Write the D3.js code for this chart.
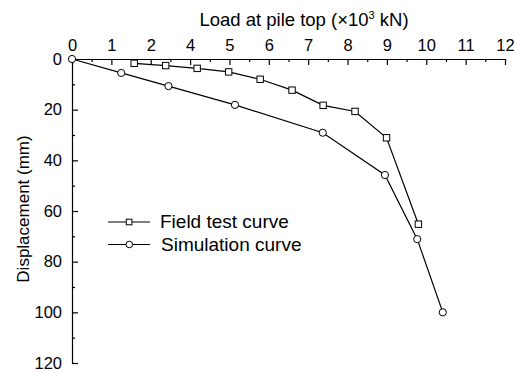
<!DOCTYPE html>
<html>
<head>
<meta charset="utf-8">
<script src="https://cdn.jsdelivr.net/npm/d3@7"></script>
<style>
  body { margin: 0; background: #fff; }
  svg { display: block; font-family: "Liberation Sans", Arial, sans-serif; }
</style>
</head>
<body>
<svg id="chart" width="514" height="372"></svg>
<script>
// load axis is drawn on an even grid of 12 ticks, labels as printed
var xTickLabels = ["0", "1", "2", "4", "5", "6", "7", "8", "9", "10", "11", "12"];
var yTicks = [0, 20, 40, 60, 80, 100, 120];

// values read in axis (tick position) units
var fieldLoad = [1.58, 2.38, 3.18, 3.98, 4.78, 5.59, 6.38, 7.19, 7.99, 8.80];
var fieldDisp = [1.7, 2.6, 3.7, 5.1, 8.0, 12.3, 18.3, 20.7, 31.1, 65.2];

var simLoad = [0, 1.25, 2.45, 4.14, 6.37, 7.95, 8.77, 9.42];
var simDisp = [0, 5.5, 10.7, 18.1, 29.1, 45.8, 71.1, 100];

var svg = d3.select("#chart");
var marginLeft = 72, marginTop = 59, plotW = 433, plotH = 304;

var x = d3.scaleLinear().domain([0, 11]).range([0, plotW]);
var y = d3.scaleLinear().domain([0, 120]).range([0, plotH]);

var g = svg.append("g").attr("transform", "translate(" + marginLeft + "," + marginTop + ")");

// x axis on top, ticks pointing into the plot
var xAxis = d3.axisTop(x)
  .tickValues(d3.range(12))
  .tickFormat(function(d, i){ return xTickLabels[i]; })
  .tickSizeInner(-6).tickSizeOuter(0).tickPadding(8.5);
g.append("g").call(xAxis);

var xMinor = d3.axisTop(x)
  .tickValues(d3.range(0.5, 11, 1))
  .tickFormat("")
  .tickSizeInner(-3).tickSizeOuter(0);
g.append("g").call(xMinor).select(".domain").remove();

var yAxis = d3.axisLeft(y)
  .tickValues(yTicks)
  .tickSizeInner(-6).tickSizeOuter(0).tickPadding(10);
g.append("g").call(yAxis);

var yMinor = d3.axisLeft(y)
  .tickValues(d3.range(10, 120, 20))
  .tickFormat("")
  .tickSizeInner(-3).tickSizeOuter(0);
g.append("g").call(yMinor).select(".domain").remove();

g.selectAll(".tick text")
  .style("font-size", "16.5px")
  .style("font-family", "Liberation Sans, Arial, sans-serif")
  .attr("fill", "#000");
g.selectAll(".domain, .tick line").attr("stroke", "#000").attr("stroke-width", 1.2);

// titles
var title = svg.append("text")
  .attr("x", 304)
  .attr("y", 25.5)
  .attr("text-anchor", "middle")
  .style("font-size", "18.5px");
title.append("tspan").text("Load at pile top (\u00d710");
title.append("tspan").attr("dy", -7).style("font-size", "11px").text("3");
title.append("tspan").attr("dy", 7).text(" kN)");

svg.append("text")
  .attr("transform", "translate(29,209) rotate(-90)")
  .attr("text-anchor", "middle")
  .style("font-size", "17px")
  .text("Displacement (mm)");

// curves
var line = d3.line()
  .x(function(d){ return x(d[0]); })
  .y(function(d){ return y(d[1]); });

var field = fieldLoad.map(function(v, i){ return [v, fieldDisp[i]]; });
var sim = simLoad.map(function(v, i){ return [v, simDisp[i]]; });

g.append("path").datum(sim).attr("d", line)
  .attr("fill", "none").attr("stroke", "#000").attr("stroke-width", 1.2);
g.append("path").datum(field).attr("d", line)
  .attr("fill", "none").attr("stroke", "#000").attr("stroke-width", 1.2);

g.selectAll(".sim-pt").data(sim).enter().append("circle")
  .attr("class", "sim-pt")
  .attr("cx", function(d){ return x(d[0]); })
  .attr("cy", function(d){ return y(d[1]); })
  .attr("r", 3.6)
  .attr("fill", "#fff").attr("stroke", "#000").attr("stroke-width", 1);

g.selectAll(".field-pt").data(field).enter().append("rect")
  .attr("class", "field-pt")
  .attr("x", function(d){ return x(d[0]) - 3.2; })
  .attr("y", function(d){ return y(d[1]) - 3.2; })
  .attr("width", 6.4).attr("height", 6.4)
  .attr("fill", "#fff").attr("stroke", "#000").attr("stroke-width", 1);

// legend
var legend = svg.append("g").attr("transform", "translate(108,222)");
var items = [
  { name: "Field test curve", shape: "square", dy: 0, tx: 52 },
  { name: "Simulation curve", shape: "circle", dy: 22.5, tx: 53 }
];
items.forEach(function(it){
  var row = legend.append("g").attr("transform", "translate(0," + it.dy + ")");
  row.append("line").attr("x1", 0).attr("x2", 42).attr("y1", 0).attr("y2", 0)
    .attr("stroke", "#000").attr("stroke-width", 1.2);
  if (it.shape == "square") {
    row.append("rect").attr("x", 18.3).attr("y", -2.8).attr("width", 5.6).attr("height", 5.6)
      .attr("fill", "#fff").attr("stroke", "#000");
  } else {
    row.append("circle").attr("cx", 21.3).attr("cy", 0).attr("r", 3.3)
      .attr("fill", "#fff").attr("stroke", "#000");
  }
  row.append("text").attr("x", it.tx).attr("y", 6)
    .style("font-size", "19px").text(it.name);
});
</script>
</body>
</html>
